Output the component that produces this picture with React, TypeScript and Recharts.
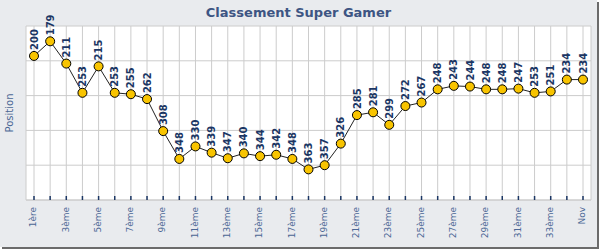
import React from "react";
import {
  LineChart,
  Line,
  XAxis,
  YAxis,
  CartesianGrid,
  LabelList,
  ReferenceLine,
} from "recharts";

const ROUNDS = [
  "1ère", "2ème", "3ème", "4ème", "5ème", "6ème", "7ème", "8ème", "9ème", "10ème",
  "11ème", "12ème", "13ème", "14ème", "15ème", "16ème", "17ème", "18ème", "19ème", "20ème",
  "21ème", "22ème", "23ème", "24ème", "25ème", "26ème", "27ème", "28ème", "29ème", "30ème",
  "31ème", "32ème", "33ème", "34ème", "Nov",
];

const POSITIONS = [
  200, 179, 211, 253, 215, 253, 255, 262, 308, 348,
  330, 339, 347, 340, 344, 342, 348, 363, 357, 326,
  285, 281, 299, 272, 267, 248, 243, 244, 248, 248,
  247, 253, 251, 234, 234,
];

const Y_TICKS = [157, 207, 257, 307, 357, 407];

const data = ROUNDS.map((round, i) => ({ round, position: POSITIONS[i] }));

const GRID = "#cccccc";
const NAVY = "#1b3664";

function RoundTick(props: any) {
  const { x, y, payload, index } = props;
  const showLabel = index % 2 === 0;
  return (
    <g>
      <line x1={x} y1={y - 4} x2={x} y2={y} stroke={NAVY} strokeWidth={1.5} />
      {showLabel && (
        <text
          x={x}
          y={y + 7}
          dy="0.25em"
          transform={`rotate(-90, ${x}, ${y + 7})`}
          textAnchor="end"
          fontFamily="DejaVu Sans, Verdana, sans-serif"
          fontSize={9}
          fill="#4b6795"
        >
          {payload.value}
        </text>
      )}
    </g>
  );
}

function ValueLabel(props: any) {
  const { x, y, value } = props;
  const ty = y - 6;
  return (
    <text
      x={x}
      y={ty}
      dy="0.36em"
      transform={`rotate(-90, ${x}, ${ty})`}
      textAnchor="start"
      fontFamily="DejaVu Sans, Verdana, sans-serif"
      fontWeight="bold"
      fontSize={10}
      fill={NAVY}
    >
      {value}
    </text>
  );
}

export default function App() {
  return (
    <div style={{ position: "relative", width: 600, height: 250 }}>
      <style>{`body{margin:0}`}</style>
      <div
        style={{
          position: "absolute",
          left: 0,
          top: 0,
          width: 597,
          height: 247,
          background: "#e9ebee",
          boxShadow: "2px 2px 0 #6b6b6b",
        }}
      >
        <LineChart
          width={597}
          height={247}
          data={data}
          margin={{ top: 26, right: 6, bottom: 0, left: 26 }}
        >
          <CartesianGrid stroke={GRID} fill="#ffffff" horizontal={false} />
          <XAxis
            dataKey="round"
            interval={0}
            height={47}
            padding={{ left: 8, right: 8 }}
            axisLine={{ stroke: GRID }}
            tickLine={false}
            tickSize={0}
            tickMargin={0}
            tick={<RoundTick />}
          />
          <YAxis
            reversed
            width={0}
            domain={[157, 407]}
            ticks={Y_TICKS}
            tick={false}
            tickLine={false}
            axisLine={{ stroke: GRID }}
          />
          <YAxis
            yAxisId="right"
            orientation="right"
            width={0}
            tick={false}
            tickLine={false}
            axisLine={{ stroke: GRID }}
          />
          {Y_TICKS.map((v) => (
            <ReferenceLine key={v} y={v} stroke={GRID} ifOverflow="extendDomain" />
          ))}
          <Line
            dataKey="position"
            stroke="#222222"
            strokeWidth={1}
            dot={{ r: 4.5, fill: "#f8c400", stroke: "#000000", strokeWidth: 1 }}
            isAnimationActive={false}
          >
            <LabelList dataKey="position" content={<ValueLabel />} />
          </Line>
        </LineChart>
      </div>
      <svg
        width={600}
        height={250}
        style={{ position: "absolute", left: 0, top: 0, pointerEvents: "none" }}
      >
        <text
          x={298.5}
          y={17}
          textAnchor="middle"
          fontFamily="DejaVu Sans, Verdana, sans-serif"
          fontWeight="bold"
          fontSize={13}
          fill="#3d5583"
        >
          Classement Super Gamer
        </text>
        <text
          x={9}
          y={113}
          dy="0.35em"
          transform="rotate(-90, 9, 113)"
          textAnchor="middle"
          fontFamily="DejaVu Sans, Verdana, sans-serif"
          fontSize={10}
          fill="#4b6795"
        >
          Position
        </text>
      </svg>
    </div>
  );
}
